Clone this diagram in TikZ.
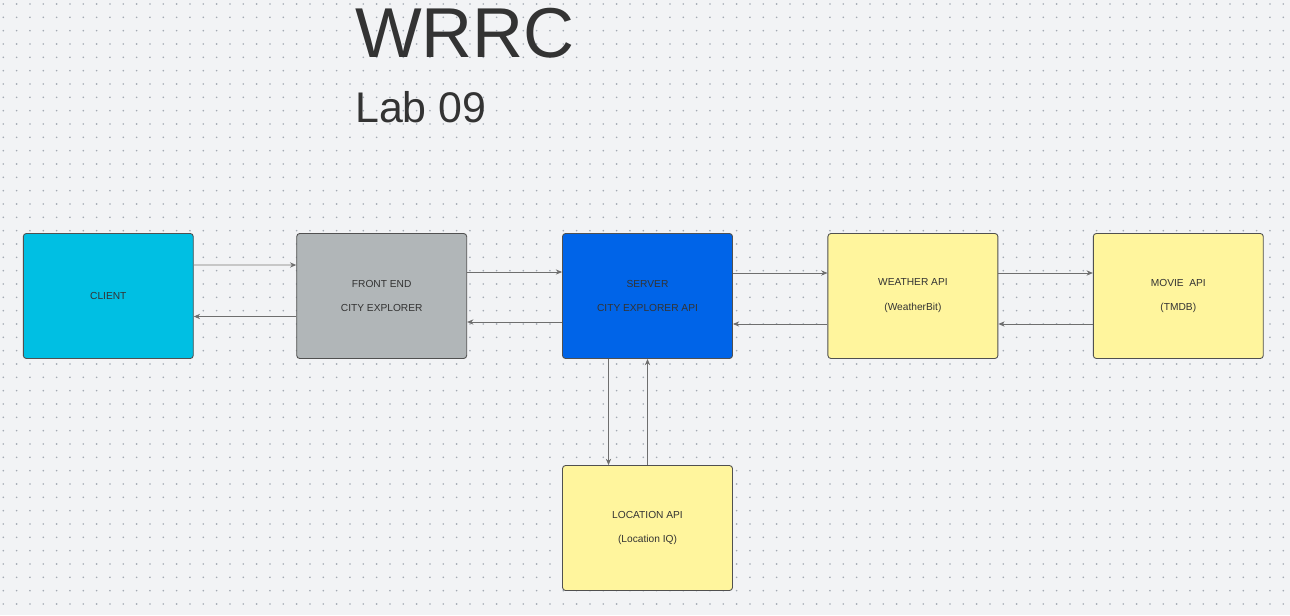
\documentclass[tikz,border=0pt]{standalone}
\usepackage{fontspec}
\setmainfont{Liberation Sans}
\usepackage{tikz}
\usetikzlibrary{arrows.meta}

\definecolor{bgpaper}{HTML}{F2F3F5}
\definecolor{griddot}{HTML}{A3AAB3}
\definecolor{inktext}{HTML}{333333}
\definecolor{boxline}{HTML}{505050}
\definecolor{linkgray}{HTML}{6E6E6E}
\definecolor{clientcyan}{HTML}{00BFE3}
\definecolor{frontgray}{HTML}{B1B6B8}
\definecolor{serverblue}{HTML}{0064E8}
\definecolor{apiyellow}{HTML}{FFF59D}

\begin{document}
\begin{tikzpicture}[x=0.02cm,y=-0.02cm,
	block/.style={draw=boxline, line width=0.5pt, rounded corners=0.6mm, minimum width=3.4cm, minimum height=2.5cm, inner sep=0pt, align=center, text=inktext, font=\fontsize{5.8}{14.2}\selectfont},
	link/.style={draw=linkgray, line width=0.5pt, -{Stealth[length=3.6pt,width=3pt]}},
	softlink/.style={draw=black!22, line width=0.9pt, -{Stealth[length=3.6pt,width=3pt,color=linkgray]}}]

	\useasboundingbox[fill=bgpaper] (0,0) rectangle (1290,615);
	\foreach \i in {0,...,96}
		\foreach \j in {0,...,45}
			\fill[griddot] (3.3+13.333*\i,4+13.333*\j) circle (0.9);

	\node[text=inktext, anchor=base west, font=\fontsize{40.2}{40.2}\selectfont] (title) at (349,58) {WRRC};
	\node[text=inktext, anchor=base west, font=\fontsize{24.4}{24.4}\selectfont] (lab) at (349,122) {Lab 09};

	\node[block, fill=clientcyan] (client) at (108.3,296) {CLIENT};
	\node[block, fill=frontgray] (front) at (381.7,296) {FRONT END\\CITY EXPLORER};
	\node[block, fill=serverblue] (server) at (647.5,296) {SERVER\\CITY EXPLORER API};
	\node[block, fill=apiyellow] (weather) at (912.9,296) {WEATHER API\\(WeatherBit)};
	\node[block, fill=apiyellow] (movie) at (1178.3,296) {MOVIE\ \ API\\(TMDB)};
	\node[block, fill=apiyellow] (location) at (647.5,528) {LOCATION API\\(Location IQ)};

	\draw[softlink] ([yshift=0.62cm]client.east) -- ([yshift=0.62cm]front.west);
	\draw[link] ([yshift=-0.41cm]front.west) -- ([yshift=-0.41cm]client.east);

	\draw[link] ([yshift=0.48cm]front.east) -- ([yshift=0.48cm]server.west);
	\draw[link] ([yshift=-0.52cm]server.west) -- ([yshift=-0.52cm]front.east);

	\draw[link] ([yshift=0.46cm]server.east) -- ([yshift=0.46cm]weather.west);
	\draw[link] ([yshift=-0.56cm]weather.west) -- ([yshift=-0.56cm]server.east);

	\draw[link] ([yshift=0.46cm]weather.east) -- ([yshift=0.46cm]movie.west);
	\draw[link] ([yshift=-0.56cm]movie.west) -- ([yshift=-0.56cm]weather.east);

	\draw[link] ([xshift=-0.78cm]server.south) -- ([xshift=-0.78cm]location.north);
	\draw[link] (location.north) -- (server.south);
\end{tikzpicture}
\end{document}
